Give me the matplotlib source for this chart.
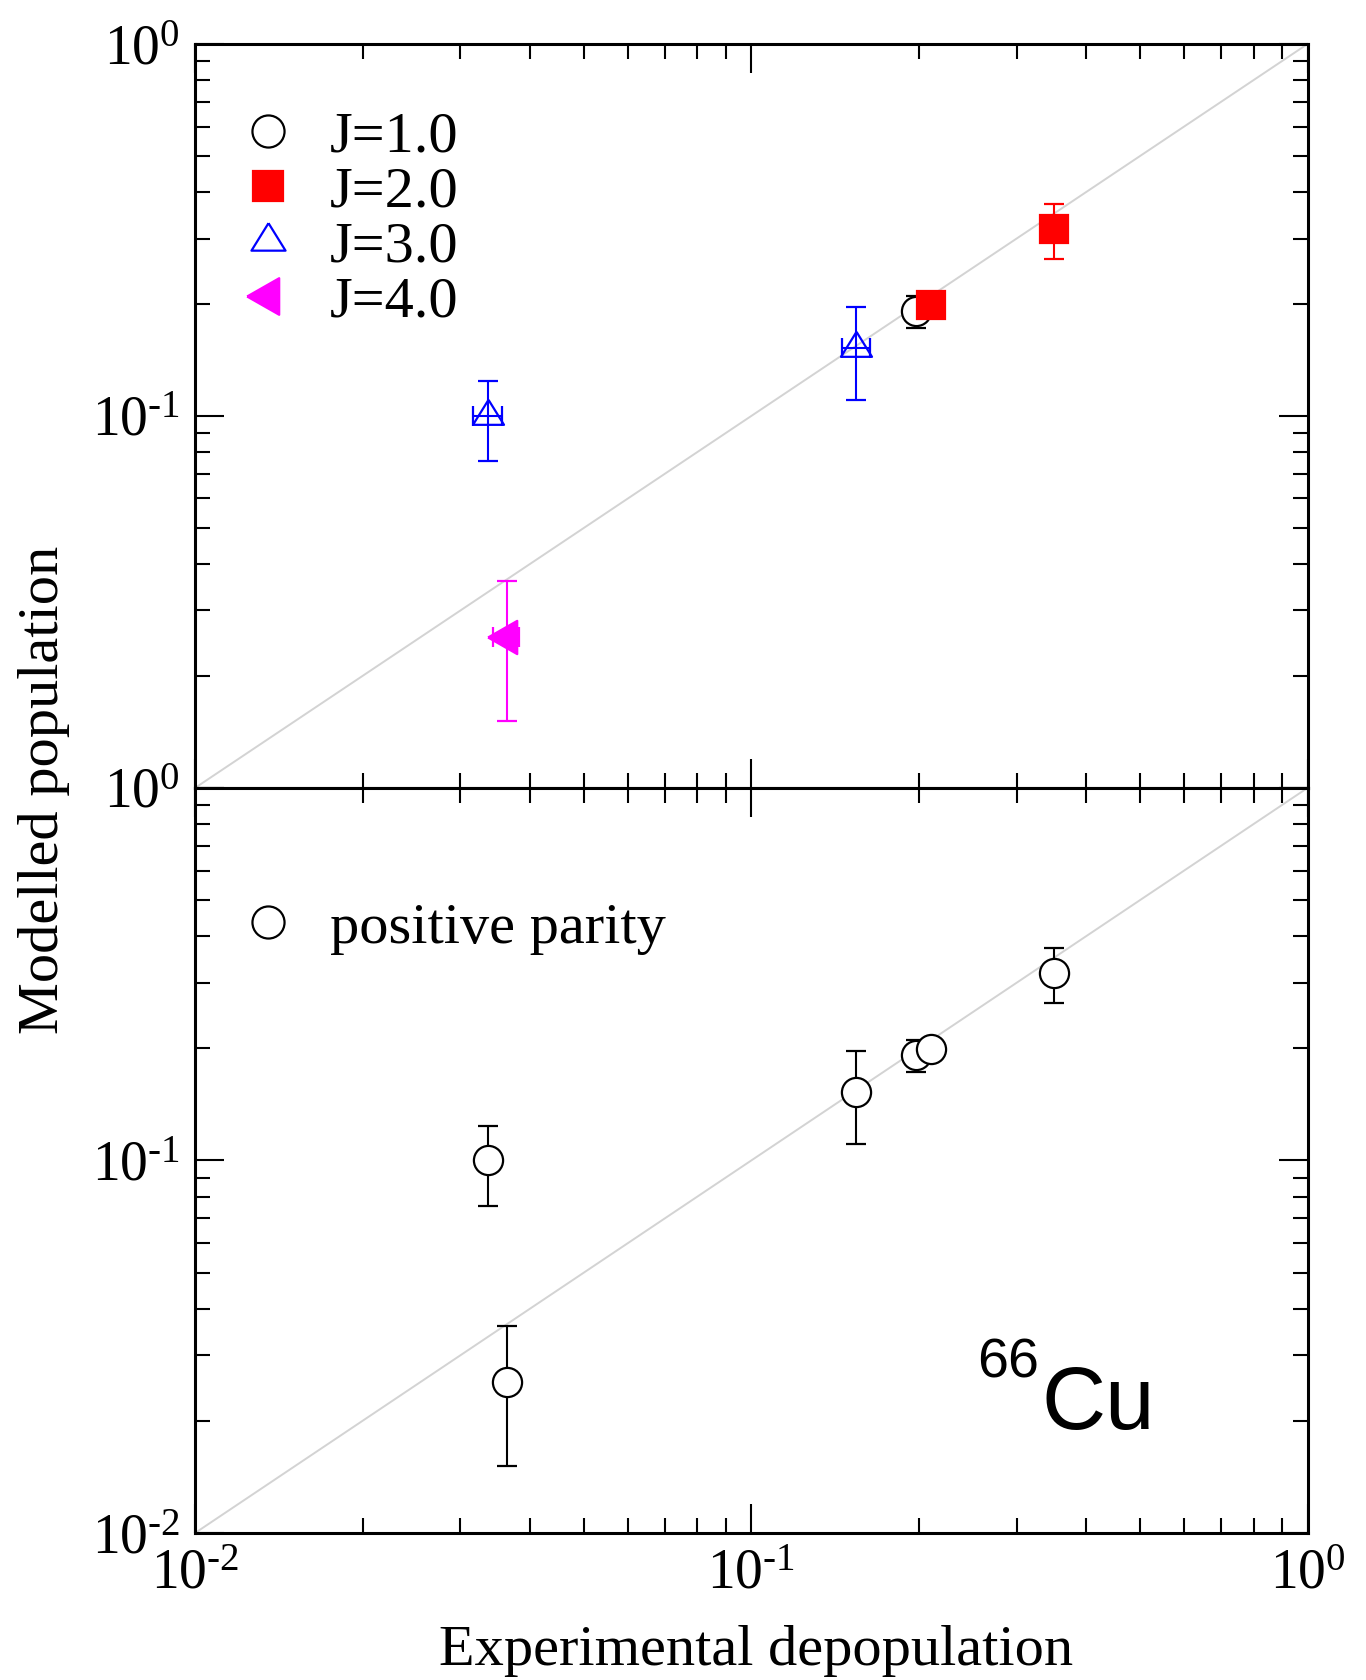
import numpy as np
import matplotlib
matplotlib.use('Agg')
import matplotlib.pyplot as plt
from matplotlib.ticker import NullFormatter, FuncFormatter, LogLocator

plt.rcParams['font.family'] = 'serif'
plt.rcParams['font.serif'] = ['Liberation Serif', 'DejaVu Serif']
plt.rcParams['mathtext.fontset'] = 'custom'
plt.rcParams['mathtext.rm'] = 'Liberation Serif'
plt.rcParams['mathtext.it'] = 'Liberation Serif:italic'
plt.rcParams['mathtext.bf'] = 'Liberation Serif:bold'

# J=1.0
j1_x = [0.198]
j1_y = [0.1915]
j1_ylo = [0.0191]
j1_yhi = [0.0187]
# J=2.0
j2_x = [0.210, 0.350]
j2_y = [0.199, 0.318]
j2_ylo = [0.0, 0.0538]
j2_yhi = [0.0, 0.0535]
# J=3.0
j3_x = [0.0336, 0.1543]
j3_y = [0.100, 0.1524]
j3_ylo = [0.0243, 0.0420]
j3_yhi = [0.0240, 0.0439]
j3_xerr = [0.0020, 0.0090]
# J=4.0
j4_x = [0.0364]
j4_y = [0.0255]
j4_ylo = [0.0104]
j4_yhi = [0.0105]
j4_xlo = [0.0021]
j4_xhi = [0.0018]

labels = ['J=1.0', 'J=2.0', 'J=3.0', 'J=4.0']

# triangles centred on their centroid (grace style)
tri_up = [(0, 1), (-0.93, -0.5), (0.93, -0.5), (0, 1)]
tri_left = [(-1, 0), (0.5, 0.855), (0.5, -0.855), (-1, 0)]

fig = plt.figure(figsize=(13.66, 16.8), dpi=100)
ax1 = fig.add_axes([0.1428, 0.531, 0.8144, 0.4428])
ax2 = fig.add_axes([0.1428, 0.0875, 0.8144, 0.4435])

ekw = dict(linestyle='none', capsize=7.5, elinewidth=1.5, capthick=2, markeredgewidth=1.6)

hs = []
e = ax1.errorbar(j1_x, j1_y, yerr=[j1_ylo, j1_yhi], marker='o', ms=21, color='black',
                 mfc='white', mec='black', **ekw)
hs.append(e.lines[0])
e = ax1.errorbar(j2_x, j2_y, yerr=[j2_ylo, j2_yhi], marker='s', ms=20, color='red',
                 mfc='red', mec='red', **ekw)
hs.append(e.lines[0])
e = ax1.errorbar(j3_x, j3_y, yerr=[j3_ylo, j3_yhi], xerr=j3_xerr, marker=tri_up, ms=24,
                 color='blue', mfc='none', mec='blue', **ekw)
hs.append(e.lines[0])
e = ax1.errorbar(j4_x, j4_y, yerr=[j4_ylo, j4_yhi], xerr=[j4_xlo, j4_xhi], marker=tri_left,
                 ms=28, color='magenta', mfc='magenta', mec='magenta', **ekw)
hs.append(e.lines[0])

# bottom: all the same levels, positive parity
all_x = j1_x + j2_x + j3_x + j4_x
all_y = j1_y + j2_y + j3_y + j4_y
all_lo = j1_ylo + j2_ylo + j3_ylo + j4_ylo
all_hi = j1_yhi + j2_yhi + j3_yhi + j4_yhi
e2 = ax2.errorbar(all_x, all_y, yerr=[all_lo, all_hi], marker='o', ms=21, color='black',
                  mfc='white', mec='black', **ekw)

diag = [0.01, 1.0]
for ax in (ax1, ax2):
    ax.plot(diag, diag, color='#d3d3d3', lw=1.4, zorder=1)
    ax.set_xscale('log')
    ax.set_yscale('log')
    ax.set_xlim(0.01, 1)
    ax.set_ylim(0.01, 1)
    ax.xaxis.set_minor_locator(LogLocator(subs=np.arange(2, 10)))
    ax.yaxis.set_minor_locator(LogLocator(subs=np.arange(2, 10)))
    ax.xaxis.set_minor_formatter(NullFormatter())
    ax.yaxis.set_minor_formatter(NullFormatter())
    ax.tick_params(which='both', direction='in', top=True, right=True, width=1.5)
    ax.tick_params(which='major', length=21, pad=11, labelsize=40)
    ax.tick_params(which='minor', length=11)
    for s in ax.spines.values():
        s.set_linewidth(2.2)

def fmt(v, pos):
    p = int(round(np.log10(v)))
    s = str(p).replace('-', '\u2010')
    return r'$\mathregular{10^{%s}}$' % s

def fmt_top(v, pos):
    if v < 0.05:
        return ''
    return fmt(v, pos)

ax1.xaxis.set_major_formatter(NullFormatter())
ax1.yaxis.set_major_formatter(FuncFormatter(fmt_top))
ax2.xaxis.set_major_formatter(FuncFormatter(fmt))
ax2.yaxis.set_major_formatter(FuncFormatter(fmt))

ax1.legend(hs, labels, loc='upper left', bbox_to_anchor=(0.0396, 0.911), frameon=False,
           fontsize=42, handlelength=1.0, handletextpad=0.56, labelspacing=0.04,
           borderpad=0, borderaxespad=0, markerscale=1.1, numpoints=1)
ax2.legend([e2.lines[0]], ['positive parity'], loc='upper left', bbox_to_anchor=(0.0396, 0.847),
           frameon=False, fontsize=42, handlelength=1.0, handletextpad=0.56,
           borderpad=0, borderaxespad=0, markerscale=1.1, numpoints=1)

fig.text(44 / 1366, 1 - 790 / 1680, 'Modelled population', rotation=90, ha='center',
         va='center', fontsize=42)
fig.text(756 / 1366, 1 - 1665 / 1680, 'Experimental depopulation', ha='center',
         va='baseline', fontsize=42)

fig.text(1042 / 1366, 1 - 1429 / 1680, 'Cu', family='Liberation Sans', fontsize=64,
         va='baseline', ha='left')
fig.text(977 / 1366, 1 - 1378 / 1680, '66', family='Liberation Sans', fontsize=40,
         va='baseline', ha='left')

fig.savefig('out.png', dpi=100)
